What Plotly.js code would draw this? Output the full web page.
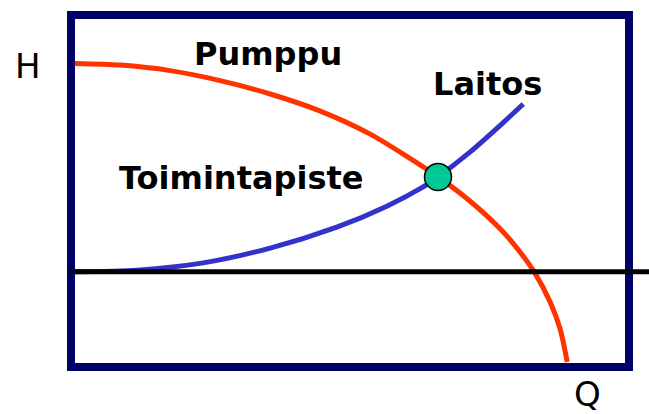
<!DOCTYPE html>
<html>
<head>
<meta charset="utf-8">
<script src="https://cdn.plot.ly/plotly-3.0.1.min.js"></script>
<style>html,body{margin:0;padding:0;background:#fff;}#chart{width:649px;height:414px;}</style>
</head>
<body>
<div id="chart"></div>
<script>
// Pump curve (Pumppu): flow Q vs head H (arbitrary units 0-100)
const pumpQ = [0, 8.2, 17.3, 26.4, 35.5, 44.5, 53.6, 59.1, 66.0, 71.8, 77.3, 80.9, 83.6, 86.4, 88.2, 89.5];
const pumpH = [87.1, 86.6, 85.0, 82.1, 78.2, 73.3, 66.6, 61.3, 54.1, 47.1, 39.0, 32.3, 26.2, 17.7, 9.9, 0.3];
// System curve (Laitos)
const systemQ = [0, 11.3, 23.3, 35.5, 47.6, 56.7, 63.3, 66.0, 71.8, 77.8, 81.5];
const systemH = [26.5, 27.0, 29.1, 33.4, 39.5, 45.6, 51.2, 54.1, 61.3, 69.8, 75.3];
// Operating point (Toimintapiste)
const opQ = [66.0];
const opH = [54.1];
// Static head line
const staticHead = 26.5;
// Labels
const labelPump = "Pumppu";
const labelSystem = "Laitos";
const labelOp = "Toimintapiste";
const axisH = "H";
const axisQ = "Q";

const traces = [
  {x: pumpQ, y: pumpH, mode: 'lines', line: {color: '#FF3300', width: 5, shape: 'spline', smoothing: 0.8}, hoverinfo: 'skip'},
  {x: systemQ, y: systemH, mode: 'lines', line: {color: '#3333CC', width: 5, shape: 'spline', smoothing: 0.8}, hoverinfo: 'skip'},
  {x: opQ, y: opH, mode: 'markers', marker: {color: '#00C896', size: 27, line: {color: '#000000', width: 1.5}}, hoverinfo: 'skip', cliponaxis: false}
];

const boldFont = {family: 'DejaVu Sans', size: 32, color: '#000000', weight: 'bold'};
const regFont = {family: 'DejaVu Sans', size: 34, color: '#000000'};

const layout = {
  width: 649, height: 414,
  margin: {l: 75, r: 24, t: 19, b: 51, pad: 0},
  paper_bgcolor: '#ffffff', plot_bgcolor: '#ffffff',
  showlegend: false,
  xaxis: {range: [0, 100], autorange: false, showgrid: false, zeroline: false, showticklabels: false, ticks: '',
          showline: true, mirror: true, linewidth: 8, linecolor: '#000066'},
  yaxis: {range: [0, 100], autorange: false, showgrid: false, zeroline: false, showticklabels: false, ticks: '',
          showline: true, mirror: true, linewidth: 8, linecolor: '#000066'},
  shapes: [
    {type: 'line', xref: 'paper', yref: 'y', x0: -0.007, x1: 1.05, y0: staticHead, y1: staticHead,
     line: {color: '#000000', width: 5}, layer: 'above'}
  ],
  annotations: [
    {text: axisH, xref: 'paper', yref: 'paper', x: -0.086, y: 0.862, showarrow: false, xanchor: 'center', yanchor: 'middle', font: regFont},
    {text: axisQ, xref: 'paper', yref: 'paper', x: 0.932, y: -0.09, showarrow: false, xanchor: 'center', yanchor: 'middle', font: regFont},
    {text: labelPump, xref: 'paper', yref: 'paper', x: 0.35, y: 0.898, showarrow: false, xanchor: 'center', yanchor: 'middle', font: boldFont},
    {text: labelSystem, xref: 'paper', yref: 'paper', x: 0.75, y: 0.8125, showarrow: false, xanchor: 'center', yanchor: 'middle', font: boldFont},
    {text: labelOp, xref: 'paper', yref: 'paper', x: 0.301, y: 0.539, showarrow: false, xanchor: 'center', yanchor: 'middle', font: boldFont}
  ]
};

Plotly.newPlot('chart', traces, layout, {staticPlot: true, displayModeBar: false});
</script>
</body>
</html>
